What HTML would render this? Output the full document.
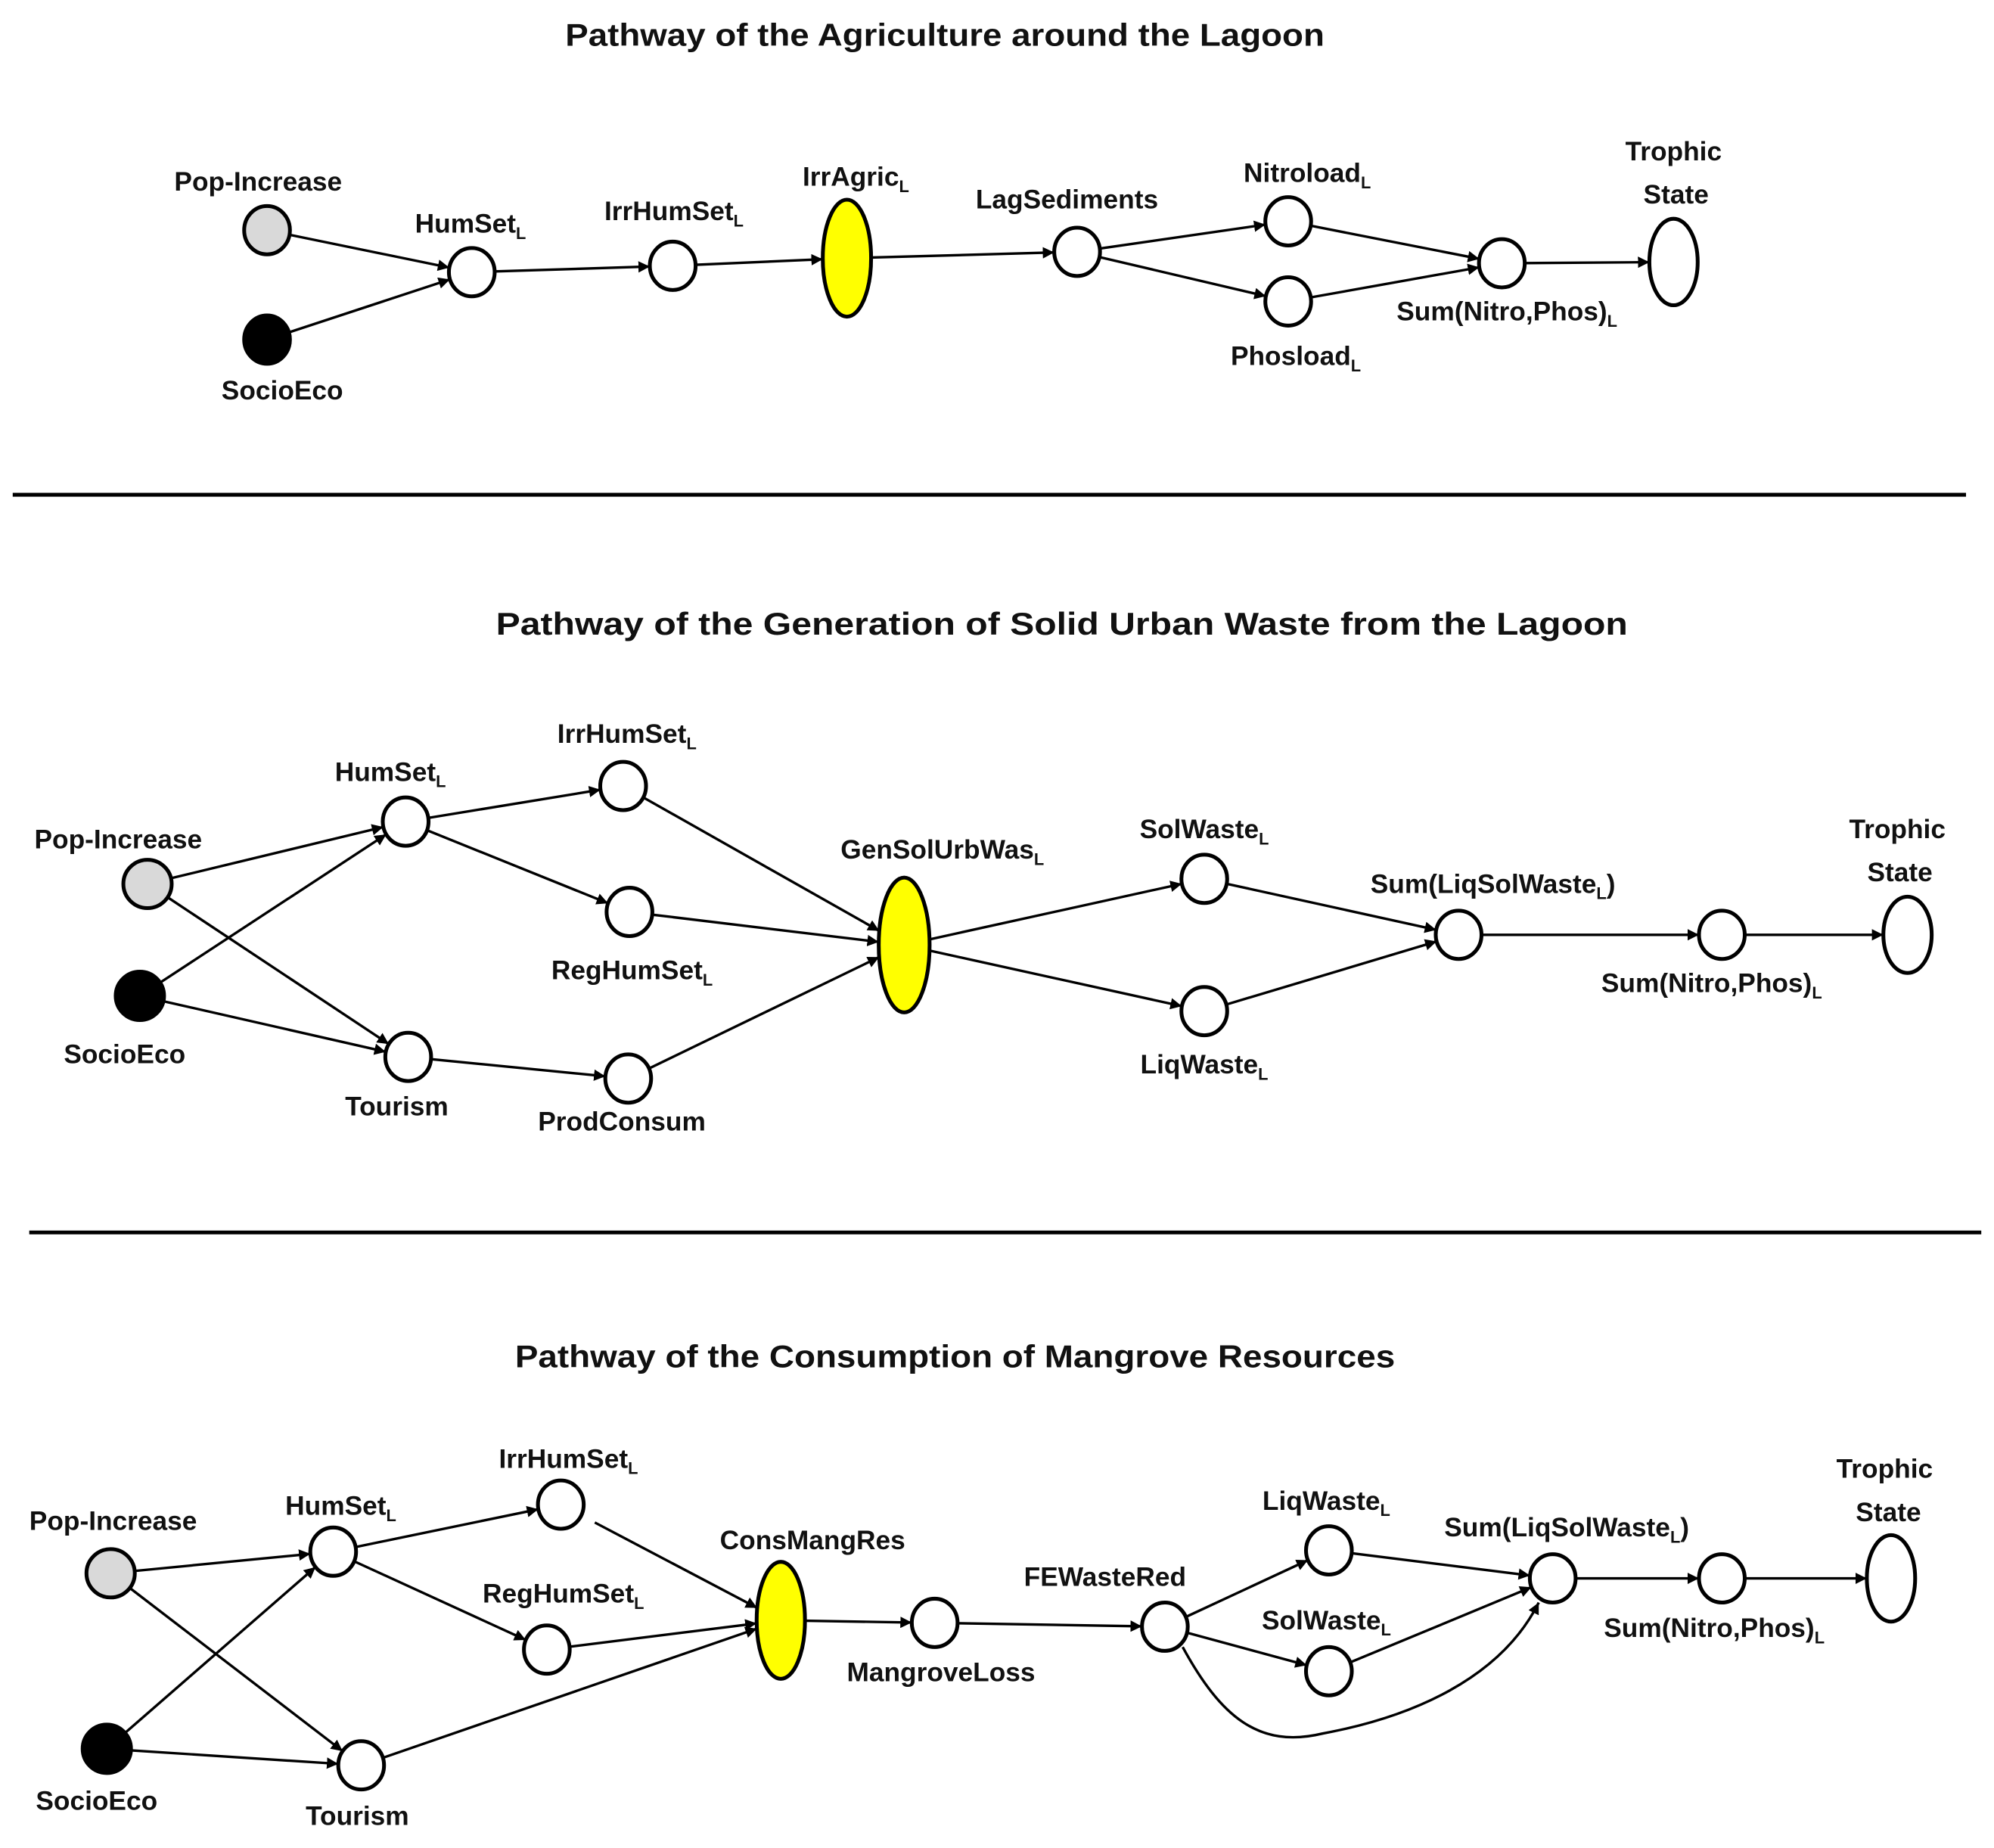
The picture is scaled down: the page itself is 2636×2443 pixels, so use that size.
<!DOCTYPE html>
<html><head><meta charset="utf-8">
<style>
html,body{margin:0;padding:0;background:#fff;}
svg{display:block;}
text{font-family:"Liberation Sans",sans-serif;font-weight:bold;fill:#111;font-size:21px;text-anchor:middle;}
.t{font-size:25px;}
.s{font-size:13px;}
</style></head><body>
<svg id="g" width="2636" height="2443" viewBox="0 0 1568 1453" preserveAspectRatio="none" xmlns="http://www.w3.org/2000/svg">
<defs>
<marker id="a" viewBox="0 0 10 10" refX="10" refY="5" markerWidth="9" markerHeight="9" markerUnits="userSpaceOnUse" orient="auto"><path d="M0,0 L10,5 L0,10 z" fill="#000"/></marker>
</defs>
<g id="edges" stroke="#000" stroke-width="2" fill="none"></g>
<g id="nodes" stroke="#000" stroke-width="3"></g>

<line x1="10" y1="389" x2="1546" y2="389" stroke="#000" stroke-width="3"/>
<line x1="23" y1="969" x2="1558" y2="969" stroke="#000" stroke-width="3"/>

<!-- Titles -->
<text class="t" x="743" y="36" textLength="597" lengthAdjust="spacingAndGlyphs">Pathway of the Agriculture around the Lagoon</text>
<text class="t" x="835" y="499" textLength="890" lengthAdjust="spacingAndGlyphs">Pathway of the Generation of Solid Urban Waste from the Lagoon</text>
<text class="t" x="751" y="1075" textLength="692" lengthAdjust="spacingAndGlyphs">Pathway of the Consumption of Mangrove Resources</text>

<!-- Section 1 labels -->
<text x="203" y="150">Pop-Increase</text>
<text x="222" y="314">SocioEco</text>
<text x="370" y="183">HumSet<tspan class="s" dy="5">L</tspan></text>
<text x="530" y="173">IrrHumSet<tspan class="s" dy="5">L</tspan></text>
<text x="673" y="146">IrrAgric<tspan class="s" dy="5">L</tspan></text>
<text x="839" y="164">LagSediments</text>
<text x="1028" y="143">Nitroload<tspan class="s" dy="5">L</tspan></text>
<text x="1019" y="287">Phosload<tspan class="s" dy="5">L</tspan></text>
<text x="1185" y="252">Sum(Nitro,Phos)<tspan class="s" dy="5">L</tspan></text>
<text x="1316" y="126">Trophic</text>
<text x="1318" y="160">State</text>

<!-- Section 2 labels -->
<text x="93" y="667">Pop-Increase</text>
<text x="98" y="836">SocioEco</text>
<text x="307" y="614">HumSet<tspan class="s" dy="5">L</tspan></text>
<text x="493" y="584">IrrHumSet<tspan class="s" dy="5">L</tspan></text>
<text x="497" y="770">RegHumSet<tspan class="s" dy="5">L</tspan></text>
<text x="312" y="877">Tourism</text>
<text x="489" y="889">ProdConsum</text>
<text x="741" y="675">GenSolUrbWas<tspan class="s" dy="5">L</tspan></text>
<text x="947" y="659">SolWaste<tspan class="s" dy="5">L</tspan></text>
<text x="947" y="844">LiqWaste<tspan class="s" dy="5">L</tspan></text>
<text x="1174" y="702">Sum(LiqSolWaste<tspan class="s" dy="5">L</tspan><tspan dy="-5">)</tspan></text>
<text x="1346" y="780">Sum(Nitro,Phos)<tspan class="s" dy="5">L</tspan></text>
<text x="1492" y="659">Trophic</text>
<text x="1494" y="693">State</text>

<!-- Section 3 labels -->
<text x="89" y="1203">Pop-Increase</text>
<text x="76" y="1423">SocioEco</text>
<text x="268" y="1191">HumSet<tspan class="s" dy="5">L</tspan></text>
<text x="447" y="1154">IrrHumSet<tspan class="s" dy="5">L</tspan></text>
<text x="443" y="1260">RegHumSet<tspan class="s" dy="5">L</tspan></text>
<text x="281" y="1435">Tourism</text>
<text x="639" y="1218">ConsMangRes</text>
<text x="740" y="1322">MangroveLoss</text>
<text x="869" y="1247">FEWasteRed</text>
<text x="1043" y="1187">LiqWaste<tspan class="s" dy="5">L</tspan></text>
<text x="1043" y="1281">SolWaste<tspan class="s" dy="5">L</tspan></text>
<text x="1232" y="1208">Sum(LiqSolWaste<tspan class="s" dy="5">L</tspan><tspan dy="-5">)</tspan></text>
<text x="1348" y="1287">Sum(Nitro,Phos)<tspan class="s" dy="5">L</tspan></text>
<text x="1482" y="1162">Trophic</text>
<text x="1485" y="1196">State</text>
</svg>
<script>
(function(){
var NS="http://www.w3.org/2000/svg";
var N={
// section 1
a_pop:[210,181,18,19,"#d9d9d9"],a_soc:[210,267,18,19,"#000"],a_hum:[371,214,18,19],a_irr:[529,209,18,19],
a_agr:[666,203,19,46,"#ffff00"],a_lag:[847,198,18,19],a_nit:[1013,174,18,19],a_pho:[1013,237,18,19],
a_sum:[1181,207,18,19],a_tro:[1316,206,19,34],
// section 2
b_pop:[116,695,19,19,"#d9d9d9"],b_soc:[110,783,19,19,"#000"],b_hum:[319,646,18,19],b_irr:[490,618,18,19],
b_reg:[495,717,18,19],b_tou:[321,831,18,19],b_pro:[494,848,18,19],b_gen:[711,743,20,53,"#ffff00"],
b_sol:[947,691,18,19],b_liq:[947,795,18,19],b_sls:[1147,735,18,19],b_snp:[1354,735,18,19],b_tro:[1500,735,19,30],
// section 3
c_pop:[87,1237,19,19,"#d9d9d9"],c_soc:[84,1375,19,19,"#000"],c_hum:[262,1220,18,19],c_irr:[441,1183,18,19],
c_reg:[430,1297,18,19],c_tou:[284,1388,18,19],c_con:[614,1274,19,46,"#ffff00"],c_man:[735,1276,18,19],
c_fe:[916,1279,18,19],c_liq:[1045,1219,18,19],c_sol:[1045,1314,18,19],c_sls:[1221,1241,18,19],
c_snp:[1354,1241,18,19],c_tro:[1487,1241,19,34]
};
var E=[["a_pop","a_hum"],["a_soc","a_hum"],["a_hum","a_irr"],["a_irr","a_agr"],["a_agr","a_lag"],["a_lag","a_nit"],["a_lag","a_pho"],["a_nit","a_sum"],["a_pho","a_sum"],["a_sum","a_tro"],
["b_pop","b_hum"],["b_pop","b_tou"],["b_soc","b_hum"],["b_soc","b_tou"],["b_hum","b_irr"],["b_hum","b_reg"],["b_tou","b_pro"],["b_irr","b_gen"],["b_reg","b_gen"],["b_pro","b_gen"],["b_gen","b_sol"],["b_gen","b_liq"],["b_sol","b_sls"],["b_liq","b_sls"],["b_sls","b_snp"],["b_snp","b_tro"],
["c_pop","c_hum"],["c_pop","c_tou"],["c_soc","c_hum"],["c_soc","c_tou"],["c_hum","c_irr"],["c_hum","c_reg"],["c_irr","c_con",12],["c_reg","c_con"],["c_tou","c_con"],["c_con","c_man"],["c_man","c_fe"],["c_fe","c_liq"],["c_fe","c_sol"],["c_liq","c_sls"],["c_sol","c_sls"],["c_sls","c_snp"],["c_snp","c_tro"]];
function bd(n,dx,dy){var t=1/Math.sqrt((dx*dx)/(n[2]*n[2])+(dy*dy)/(n[3]*n[3]));return t;}
var eg=document.getElementById("edges"),ng=document.getElementById("nodes");
E.forEach(function(e){
 var p=N[e[0]],q=N[e[1]],dx=q[0]-p[0],dy=q[1]-p[1];
 var t1=bd(p,dx,dy)+(e[2]?e[2]/Math.hypot(dx,dy):0),t2=bd(q,-dx,-dy);
 var l=document.createElementNS(NS,"line");
 l.setAttribute("x1",p[0]+dx*t1);l.setAttribute("y1",p[1]+dy*t1);
 l.setAttribute("x2",q[0]-dx*t2);l.setAttribute("y2",q[1]-dy*t2);
 l.setAttribute("marker-end","url(#a)");eg.appendChild(l);
});
var c=document.createElementNS(NS,"path");
c.setAttribute("d","M930,1295 C960,1350 990,1375 1040,1363 C1110,1350 1180,1320 1210,1260");
c.setAttribute("marker-end","url(#a)");eg.appendChild(c);
for(var k in N){var n=N[k];var el=document.createElementNS(NS,"ellipse");
 el.setAttribute("cx",n[0]);el.setAttribute("cy",n[1]);el.setAttribute("rx",n[2]);el.setAttribute("ry",n[3]);
 el.setAttribute("fill",n[4]||"#fff");ng.appendChild(el);}
})();
</script>
</body></html>
